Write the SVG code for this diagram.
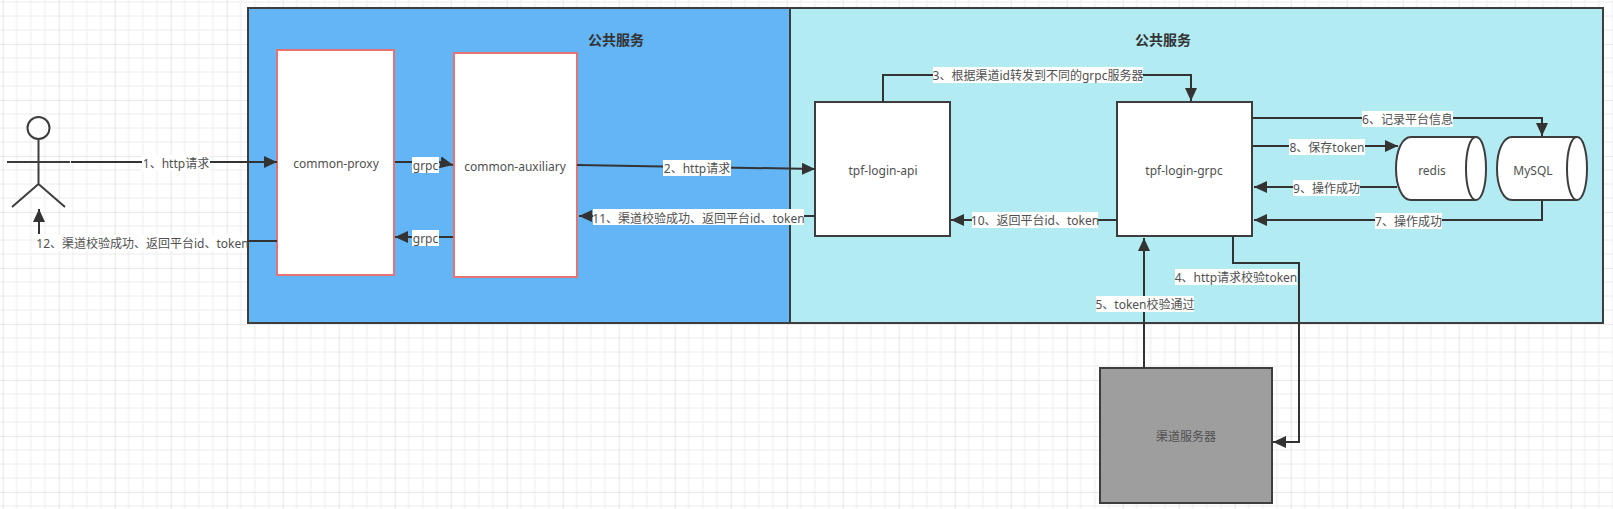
<svg xmlns="http://www.w3.org/2000/svg" width="1613" height="509" viewBox="0 0 1613 509">
<style>
text{font-family:"Noto Sans","Noto Sans CJK SC",sans-serif;font-size:12px;fill:#505050;text-anchor:middle;dominant-baseline:central}
.title{font-weight:bold;font-size:14px;fill:#333}
.box{stroke:#3d3d3d;stroke-width:2;fill:#fff}
.ln{stroke:#3d3d3d;stroke-width:2;fill:none}
.svc{stroke:#e57373;stroke-width:2;fill:#fff}
.c{fill:none;stroke:#333;stroke-width:2}
.a{fill:none;stroke:#333;stroke-width:2;marker-end:url(#arr)}
.lb{fill:#fff}
</style>
<defs>
<marker id="arr" markerUnits="userSpaceOnUse" markerWidth="14" markerHeight="12" refX="13" refY="6" orient="auto"><path d="M0 0L13 6L0 12L0 0Z" fill="#333"/></marker>
<pattern id="grid" width="56" height="56" x="2.7" y="44" patternUnits="userSpaceOnUse">
<path d="M14 0V56M28 0V56M42 0V56M0 14H56M0 28H56M0 42H56" stroke="#ececec" stroke-width="1" fill="none"/>
<path d="M0 0V56M0 0H56" stroke="#e2e2e2" stroke-width="1.6" fill="none"/>
</pattern>
</defs>
<rect width="1613" height="509" fill="#fff"/>
<rect width="1613" height="509" fill="url(#grid)"/>
<g id="zone-left"><rect x="248" y="8" width="542" height="315" fill="#64b5f6" stroke="#3d3d3d" stroke-width="2"/><text class="title" x="616" y="39">公共服务</text></g>
<g id="zone-right"><rect x="790" y="8" width="813" height="315" fill="#b2ebf2" stroke="#3d3d3d" stroke-width="2"/><text class="title" x="1163" y="39">公共服务</text></g>
<g id="user" fill="none" stroke="#3d3d3d" stroke-width="2">
<circle cx="38.500" cy="128" r="11" fill="#fff"/>
<path d="M38.500 139V184M7 162H70M38.500 184L12 207M38.500 184L65 207"/>
</g>
<g id="common-proxy"><rect class="svc" x="277" y="50" width="117" height="225"/><text x="336" y="163">common-proxy</text></g>
<g id="common-auxiliary"><rect class="svc" x="454" y="53" width="123" height="224"/><text x="515" y="166">common-auxiliary</text></g>
<g id="tpf-login-api"><rect class="box" x="815" y="102" width="135" height="134"/><text x="883" y="170">tpf-login-api</text></g>
<g id="tpf-login-grpc"><rect class="box" x="1117" y="102" width="135" height="134"/><text x="1184" y="170">tpf-login-grpc</text></g>
<g id="redis"><path class="box" d="M1411 137H1476C1482 137 1486 151 1486 168.500C1486 186 1482 200 1476 200H1411C1402 200 1396 186 1396 168.500C1396 151 1402 137 1411 137Z"/><path class="ln" d="M1476 137C1470 137 1466 151 1466 168.500C1466 186 1470 200 1476 200"/><text x="1432" y="170">redis</text></g>
<g id="mysql"><path class="box" d="M1512 137H1577C1583 137 1587 151 1587 168.500C1587 186 1583 200 1577 200H1512C1503 200 1497 186 1497 168.500C1497 151 1503 137 1512 137Z"/><path class="ln" d="M1577 137C1571 137 1567 151 1567 168.500C1567 186 1571 200 1577 200"/><text x="1533" y="170">MySQL</text></g>
<g id="channel-server"><rect x="1100" y="368" width="172" height="135" fill="#9e9e9e" stroke="#3d3d3d" stroke-width="2"/><text x="1186" y="436">渠道服务器</text></g>
<g id="connectors">
<path class="a" d="M71 162H277"/>
<path class="a" d="M395 162L439 162L453 165"/>
<path class="a" d="M453 237H395"/>
<path class="a" d="M577 165L815 169"/>
<path class="a" d="M883 102V75H1191V101"/>
<path class="a" d="M1233 236V263H1299V442H1273"/>
<path class="a" d="M1144 368V238"/>
<path class="a" d="M1253 118H1542V136"/>
<path class="a" d="M1253 146H1398"/>
<path class="a" d="M1397 187H1254"/>
<path class="a" d="M1542 200V220H1254"/>
<path class="a" d="M1117 220H951"/>
<path class="a" d="M815 216H579"/>
<path class="c" d="M277 241H247"/>
<path class="a" d="M39 234V209"/>
<rect class="lb" x="142" y="155" width="68" height="16"/><text x="176" y="163">1、http请求</text>
<rect class="lb" x="412" y="157" width="27" height="16"/><text x="425.500" y="165">grpc</text>
<rect class="lb" x="412" y="230" width="27" height="16"/><text x="425.500" y="238">grpc</text>
<rect class="lb" x="663" y="160" width="68" height="16"/><text x="697" y="168">2、http请求</text>
<rect class="lb" x="933" y="67" width="210" height="16"/><text x="1038" y="75">3、根据渠道id转发到不同的grpc服务器</text>
<rect class="lb" x="1175" y="269" width="122" height="16"/><text x="1236" y="277">4、http请求校验token</text>
<rect class="lb" x="1096" y="296" width="98" height="16"/><text x="1145" y="304">5、token校验通过</text>
<rect class="lb" x="1362" y="111" width="91" height="16"/><text x="1407.500" y="119">6、记录平台信息</text>
<rect class="lb" x="1375" y="213" width="67" height="16"/><text x="1408.500" y="221">7、操作成功</text>
<rect class="lb" x="1289" y="139" width="76" height="16"/><text x="1327" y="147">8、保存token</text>
<rect class="lb" x="1293" y="180" width="67" height="16"/><text x="1326.500" y="188">9、操作成功</text>
<rect class="lb" x="972" y="212" width="126" height="16"/><text x="1035" y="220">10、返回平台id、token</text>
<rect class="lb" x="593" y="209" width="211" height="16"/><text x="698.500" y="218">11、渠道校验成功、返回平台id、token</text>
<rect class="lb" x="38" y="235" width="209" height="16"/><text x="142.500" y="243">12、渠道校验成功、返回平台id、token</text>
</g>
</svg>
